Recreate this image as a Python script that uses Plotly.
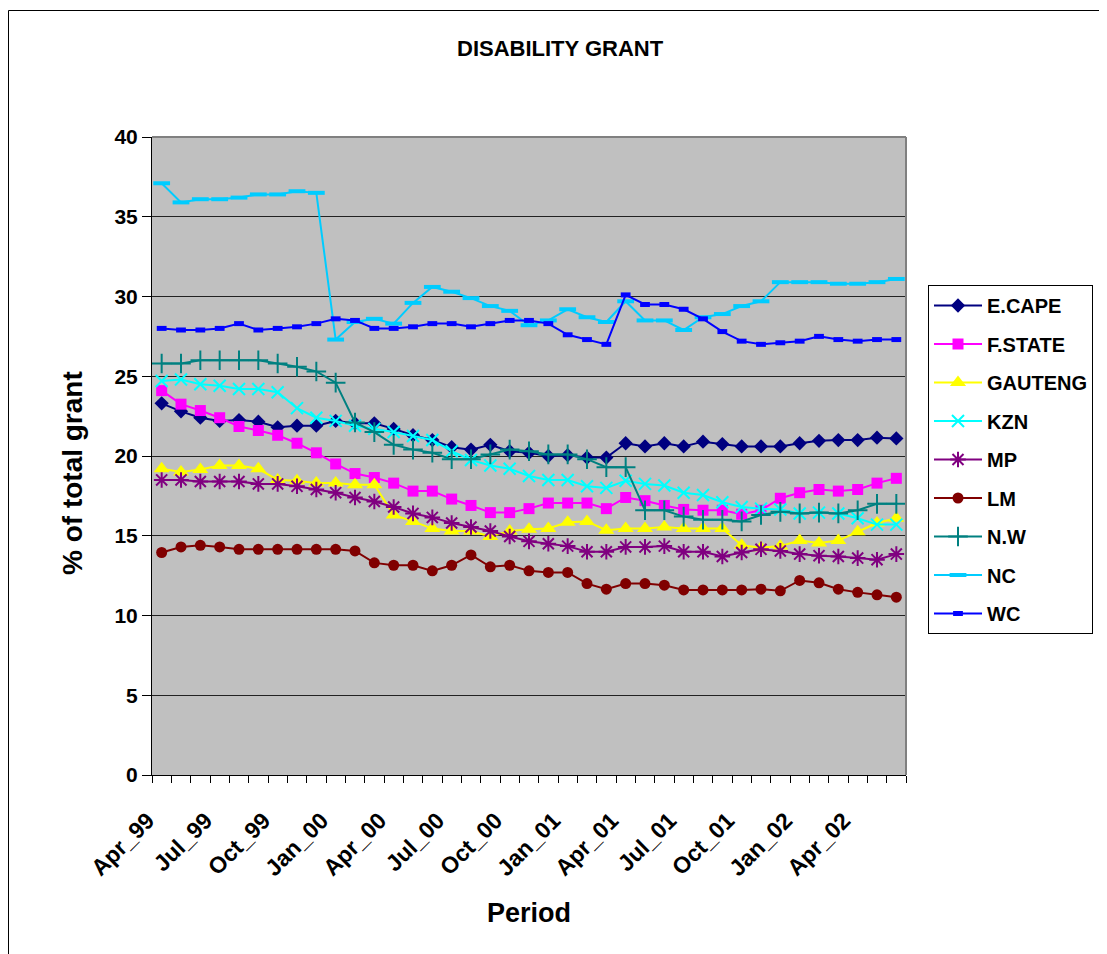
import plotly.graph_objects as go

periods = ["Apr_99","May_99","Jun_99","Jul_99","Aug_99","Sep_99","Oct_99","Nov_99","Dec_99",
           "Jan_00","Feb_00","Mar_00","Apr_00","May_00","Jun_00","Jul_00","Aug_00","Sep_00",
           "Oct_00","Nov_00","Dec_00","Jan_01","Feb_01","Mar_01","Apr_01","May_01","Jun_01",
           "Jul_01","Aug_01","Sep_01","Oct_01","Nov_01","Dec_01","Jan_02","Feb_02","Mar_02",
           "Apr_02","May_02","Jun_02"]

e_cape = [23.3, 22.8, 22.4, 22.2, 22.25, 22.15, 21.8, 21.9, 21.9, 22.2, 22.05, 22.05, 21.7,
          21.3, 21.0, 20.55, 20.4, 20.7, 20.3, 20.2, 20.0, 20.05, 19.9, 19.9, 20.8, 20.6,
          20.8, 20.6, 20.9, 20.75, 20.6, 20.6, 20.6, 20.8, 20.95, 21.0, 21.0, 21.15, 21.1]
f_state = [24.1, 23.25, 22.85, 22.4, 21.85, 21.6, 21.3, 20.8, 20.2, 19.5, 18.9, 18.65, 18.3,
           17.8, 17.8, 17.3, 16.9, 16.45, 16.45, 16.7, 17.05, 17.05, 17.05, 16.7, 17.4, 17.2,
           16.9, 16.65, 16.6, 16.6, 16.35, 16.6, 17.35, 17.7, 17.9, 17.8, 17.9, 18.3, 18.6]
gauteng = [19.2, 19.0, 19.15, 19.4, 19.4, 19.2, 18.5, 18.45, 18.3, 18.3, 18.2, 18.2, 16.3,
           15.9, 15.45, 15.3, 15.3, 14.95, 15.3, 15.4, 15.45, 15.85, 15.9, 15.35, 15.45, 15.45,
           15.55, 15.45, 15.45, 15.45, 14.4, 14.25, 14.35, 14.7, 14.55, 14.7, 15.25, 15.8, 16.1]
kzn = [24.7, 24.8, 24.5, 24.4, 24.2, 24.2, 24.0, 23.0, 22.4, 22.2, 21.9, 21.7, 21.5,
       21.25, 21.0, 20.3, 19.75, 19.4, 19.2, 18.75, 18.5, 18.5, 18.1, 18.0, 18.45, 18.25,
       18.15, 17.7, 17.55, 17.1, 16.8, 16.7, 16.65, 16.4, 16.45, 16.4, 16.1, 15.7, 15.7]
mp = [18.5, 18.5, 18.4, 18.4, 18.4, 18.25, 18.25, 18.1, 17.9, 17.7, 17.4, 17.15, 16.8,
      16.4, 16.15, 15.8, 15.55, 15.3, 14.95, 14.65, 14.5, 14.35, 14.0, 14.0, 14.3, 14.3,
      14.35, 14.0, 14.0, 13.7, 13.95, 14.15, 14.05, 13.85, 13.75, 13.7, 13.6, 13.5, 13.85]
lm = [13.95, 14.3, 14.4, 14.3, 14.15, 14.15, 14.15, 14.15, 14.15, 14.15, 14.05, 13.3, 13.15,
      13.15, 12.8, 13.15, 13.8, 13.05, 13.15, 12.8, 12.7, 12.7, 12.0, 11.65, 12.0, 12.0,
      11.9, 11.6, 11.6, 11.6, 11.6, 11.65, 11.55, 12.2, 12.05, 11.65, 11.45, 11.3, 11.15]
n_w = [25.8, 25.8, 26.0, 26.0, 26.0, 26.0, 25.8, 25.6, 25.3, 24.6, 22.1, 21.5, 20.7,
       20.4, 20.2, 19.8, 19.8, 20.1, 20.4, 20.3, 20.1, 20.1, 19.8, 19.3, 19.3, 16.6,
       16.6, 16.2, 16.0, 16.0, 15.9, 16.3, 16.5, 16.4, 16.45, 16.4, 16.6, 17.0, 17.0]
nc = [37.1, 35.9, 36.1, 36.1, 36.2, 36.4, 36.4, 36.6, 36.5, 27.3, 28.4, 28.6, 28.3,
      29.6, 30.6, 30.3, 29.9, 29.4, 29.1, 28.2, 28.5, 29.2, 28.7, 28.4, 29.7, 28.5,
      28.5, 27.9, 28.7, 28.9, 29.4, 29.7, 30.9, 30.9, 30.9, 30.8, 30.8, 30.9, 31.1]
wc = [28.0, 27.9, 27.9, 28.0, 28.3, 27.9, 28.0, 28.1, 28.3, 28.6, 28.5, 28.0, 28.0,
      28.1, 28.3, 28.3, 28.1, 28.3, 28.5, 28.5, 28.3, 27.6, 27.3, 27.0, 30.1, 29.5,
      29.5, 29.2, 28.6, 27.8, 27.2, 27.0, 27.1, 27.2, 27.5, 27.3, 27.2, 27.3, 27.3]

series = [
    ("E.CAPE", e_cape, "#000080", dict(symbol="diamond", size=11, color="#000080")),
    ("F.STATE", f_state, "#FF00FF", dict(symbol="square", size=11, color="#FF00FF")),
    ("GAUTENG", gauteng, "#FFFF00", dict(symbol="triangle-up", size=14, color="#FFFF00")),
    ("KZN", kzn, "#00FFFF", dict(symbol="x-thin-open", size=12, line=dict(color="#00FFFF", width=2))),
    ("MP", mp, "#800080", dict(symbol="asterisk-open", size=13, line=dict(color="#800080", width=2))),
    ("LM", lm, "#800000", dict(symbol="circle", size=11, color="#800000")),
    ("N.W", n_w, "#008080", dict(symbol="cross-thin-open", size=14, line=dict(color="#008080", width=2))),
    ("NC", nc, "#00CCFF", dict(symbol="line-ew-open", size=12, line=dict(color="#00CCFF", width=4))),
    ("WC", wc, "#0000FF", dict(symbol="line-ew-open", size=7, line=dict(color="#0000FF", width=5))),
]

fig = go.Figure()
for name, vals, col, mk in series:
    fig.add_trace(go.Scatter(x=periods, y=vals, name=name, mode="lines+markers",
                             line=dict(color=col, width=2), marker=mk, legendgroup=name))

# page offset of 8px (html body margin)
OFF = 8
FW, FH = 1107 - OFF, 954 - OFF
L, T, W, H = 152, 137, 754, 638          # plot area in page pixels
def px(x): return (x - L) / W
def py(y): return (T + H - y) / H

font = "Liberation Sans, Arial, sans-serif"
fig.update_layout(
    width=FW, height=FH,
    margin=dict(l=L - OFF, r=FW - (L - OFF) - W, t=T - OFF, b=FH - (T - OFF) - H),
    paper_bgcolor="white", plot_bgcolor="#C0C0C0",
    font=dict(family=font, color="black", size=20),
    showlegend=True,
    legend=dict(x=px(928), y=py(285), xanchor="left", yanchor="top",
                bordercolor="black", borderwidth=1, bgcolor="white",
                font=dict(size=20, family=font, weight="bold"),
                tracegroupgap=9.5, traceorder="grouped", itemwidth=48),
    xaxis=dict(type="category", tickmode="array", tickvals=periods,
               ticktext=[p if i % 3 == 0 else "" for i, p in enumerate(periods)],
               tickson="boundaries", ticks="outside", ticklen=7, tickcolor="black",
               tickangle=-45, showgrid=False, showline=True, linecolor="black", linewidth=1,
               tickfont=dict(size=23, family=font, weight="bold"),
               ticklabelstandoff=22, ticklabelshift=-14, range=[-0.5, 38.5]),
    yaxis=dict(range=[0, 40], dtick=5, ticks="outside", ticklen=9, tickcolor="black",
               showgrid=True, gridcolor="#222222", gridwidth=1, showline=True,
               linecolor="black", linewidth=1, zeroline=False,
               tickfont=dict(size=21, family=font, weight="bold")),
    shapes=[
        dict(type="line", xref="paper", yref="paper", x0=0, x1=1, y0=1, y1=1,
             line=dict(color="#808080", width=2), layer="above"),
        dict(type="line", xref="paper", yref="paper", x0=1, x1=1, y0=0, y1=1,
             line=dict(color="#808080", width=2), layer="above"),
        dict(type="line", xref="paper", yref="paper", x0=px(8.5), x1=px(1107), y0=py(10.5), y1=py(10.5),
             line=dict(color="black", width=1)),
        dict(type="line", xref="paper", yref="paper", x0=px(8.5), x1=px(8.5), y0=py(10.5), y1=py(960),
             line=dict(color="black", width=1)),
    ],
    annotations=[
        dict(text="<b>DISABILITY GRANT</b>", xref="paper", yref="paper", x=px(560), y=py(49),
             xanchor="center", yanchor="middle", showarrow=False, font=dict(size=22, family=font)),
        dict(text="<b>% of total grant</b>", xref="paper", yref="paper", x=px(72), y=py(473),
             xanchor="center", yanchor="middle", textangle=-90, showarrow=False,
             font=dict(size=28, family=font)),
        dict(text="<b>Period</b>", xref="paper", yref="paper", x=px(529), y=py(913),
             xanchor="center", yanchor="middle", showarrow=False, font=dict(size=27, family=font)),
    ],
)

fig.write_html("out.html")
